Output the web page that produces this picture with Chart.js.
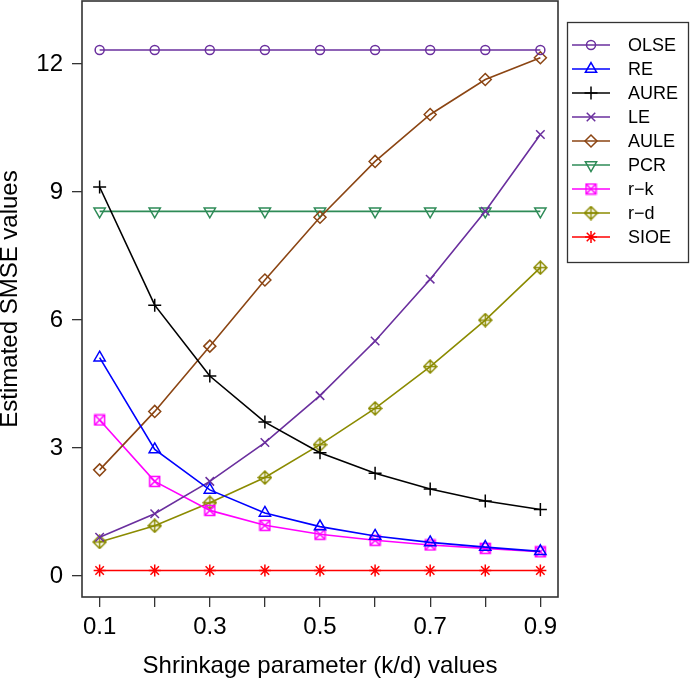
<!DOCTYPE html>
<html>
<head>
<meta charset="utf-8">
<script src="https://cdn.jsdelivr.net/npm/chart.js@4/dist/chart.umd.min.js"></script>
<style>
  html, body { margin: 0; padding: 0; background: #fff; }
</style>
</head>
<body>
<canvas id="smseChart" width="700" height="700"></canvas>
<script>
// shrinkage parameter values and tick labels
var kValues = [0.1, 0.2, 0.3, 0.4, 0.5, 0.6, 0.7, 0.8, 0.9];
var xTickLabels = ['0.1', '', '0.3', '', '0.5', '', '0.7', '', '0.9'];
var yTicks = [0, 3, 6, 9, 12];

// estimated SMSE values per estimator
var olse = [12.33, 12.33, 12.33, 12.33, 12.33, 12.33, 12.33, 12.33, 12.33];
var re   = [5.12, 2.97, 2.02, 1.48, 1.16, 0.94, 0.79, 0.68, 0.58];
var aure = [9.12, 6.35, 4.69, 3.61, 2.89, 2.41, 2.04, 1.76, 1.56];
var le   = [0.91, 1.46, 2.22, 3.13, 4.23, 5.51, 6.96, 8.55, 10.35];
var aule = [2.49, 3.86, 5.39, 6.94, 8.41, 9.72, 10.82, 11.64, 12.15];
var pcr  = [8.55, 8.55, 8.55, 8.55, 8.55, 8.55, 8.55, 8.55, 8.55];
var rk   = [3.66, 2.22, 1.54, 1.19, 0.98, 0.84, 0.73, 0.65, 0.57];
var rd   = [0.80, 1.18, 1.72, 2.31, 3.08, 3.93, 4.91, 6.00, 7.23];
var sioe = [0.13, 0.13, 0.13, 0.13, 0.13, 0.13, 0.13, 0.13, 0.13];

var FONT = "'Liberation Sans', Arial, Helvetica, sans-serif";

// R style pch 7 (square with x) and pch 9 (diamond with plus)
function boxCross(color) {
    var c = document.createElement('canvas');
    c.width = 13; c.height = 13;
    var g = c.getContext('2d');
    g.strokeStyle = color; g.lineWidth = 1.5;
    g.strokeRect(1.5, 1.5, 10, 10);
    g.beginPath();
    g.moveTo(1.5, 1.5); g.lineTo(11.5, 11.5);
    g.moveTo(11.5, 1.5); g.lineTo(1.5, 11.5);
    g.stroke();
    return c;
}
function diamondPlus(color) {
    var c = document.createElement('canvas');
    c.width = 15; c.height = 15;
    var g = c.getContext('2d');
    g.strokeStyle = color; g.lineWidth = 1.5;
    g.beginPath();
    g.moveTo(7.5, 1); g.lineTo(14, 7.5); g.lineTo(7.5, 14); g.lineTo(1, 7.5); g.closePath();
    g.moveTo(7.5, 1); g.lineTo(7.5, 14);
    g.moveTo(1, 7.5); g.lineTo(14, 7.5);
    g.stroke();
    return c;
}

function toPoints(vals) {
    return vals.map(function (v, i) { return { x: kValues[i], y: v }; });
}

function series(label, vals, color, style, radius, rotation) {
    return {
        label: label,
        data: toPoints(vals),
        borderColor: color,
        backgroundColor: color,
        borderWidth: 1.6,
        pointStyle: style,
        pointRadius: radius,
        pointRotation: rotation || 0,
        pointBorderColor: color,
        pointBackgroundColor: 'rgba(0,0,0,0)',
        pointBorderWidth: 1.5,
        pointHoverRadius: radius,
        tension: 0,
        fill: false
    };
}

var datasets = [
    series('OLSE', olse, '#6a2f9e', 'circle', 4.5),
    series('RE', re, '#0000ff', 'triangle', 6.5),
    series('AURE', aure, '#000000', 'cross', 6.5),
    series('LE', le, '#6a2f9e', 'crossRot', 6),
    series('AULE', aule, '#8b4513', 'rectRot', 6),
    series('PCR', pcr, '#2e8b57', 'triangle', 6.5, 180),
    series('r\u2212k', rk, '#ff00ff', boxCross('#ff00ff'), 6),
    series('r\u2212d', rd, '#8b8b00', diamondPlus('#8b8b00'), 7),
    series('SIOE', sioe, '#ff0000', 'star', 6)
];

// frame round the plot region, as R draws it
var framePlugin = {
    id: 'frame',
    afterDraw: function (chart) {
        var a = chart.chartArea, ctx = chart.ctx;
        ctx.save();
        ctx.strokeStyle = '#333';
        ctx.lineWidth = 1.6;
        ctx.strokeRect(a.left, a.top, a.right - a.left, a.bottom - a.top);
        ctx.restore();
    }
};

// boxed legend to the right
var legendPlugin = {
    id: 'rLegend',
    afterDraw: function (chart) {
        var ctx = chart.ctx;
        ctx.save();
        ctx.strokeStyle = '#333';
        ctx.lineWidth = 1.3;
        ctx.strokeRect(567.5, 22.5, 121, 240);
        ctx.font = '18px ' + FONT;
        ctx.textBaseline = 'middle';
        ctx.textAlign = 'left';
        chart.data.datasets.forEach(function (ds, i) {
            var y = 45 + i * 24;
            ctx.strokeStyle = ds.borderColor;
            ctx.lineWidth = ds.borderWidth;
            ctx.beginPath();
            ctx.moveTo(572, y); ctx.lineTo(610, y);
            ctx.stroke();
            ctx.lineWidth = ds.pointBorderWidth;
            ctx.fillStyle = 'rgba(0,0,0,0)';
            Chart.helpers.drawPoint(ctx, {
                pointStyle: ds.pointStyle,
                radius: ds.pointRadius,
                rotation: ds.pointRotation,
                borderWidth: ds.pointBorderWidth
            }, 591, y);
            ctx.fillStyle = '#000';
            ctx.fillText(ds.label, 628, y + 1);
        });
        ctx.restore();
    }
};

var ctx = document.getElementById('smseChart').getContext('2d');
var smseChart = new Chart(ctx, {
    type: 'line',
    data: { datasets: datasets },
    options: {
        responsive: false,
        animation: false,
        layout: { autoPadding: false, padding: { left: 0, right: 142, top: 1, bottom: 0 } },
        plugins: {
            legend: { display: false },
            tooltip: { enabled: false }
        },
        scales: {
            x: {
                type: 'linear',
                min: 0.068,
                max: 0.932,
                afterBuildTicks: function (scale) {
                    scale.ticks = kValues.map(function (v) { return { value: v }; });
                },
                afterFit: function (scale) {
                    scale.height = 103;
                    scale.paddingLeft = 0;
                    scale.paddingRight = 0;
                },
                ticks: {
                    autoSkip: false,
                    maxRotation: 0,
                    padding: 6,
                    color: '#000',
                    font: { family: FONT, size: 24 },
                    callback: function (v, i) { return xTickLabels[i]; }
                },
                grid: { drawOnChartArea: false, drawTicks: true, tickLength: 10, color: '#333', lineWidth: 1.3 },
                border: { display: false },
                title: {
                    display: true,
                    text: 'Shrinkage parameter (k/d) values',
                    color: '#000',
                    font: { family: FONT, size: 24 },
                    padding: { top: 0, bottom: 19 }
                }
            },
            y: {
                type: 'linear',
                min: -0.49,
                max: 13.48,
                afterBuildTicks: function (scale) {
                    scale.ticks = yTicks.map(function (v) { return { value: v }; });
                },
                afterFit: function (scale) {
                    scale.width = 82;
                    scale.paddingTop = 0;
                    scale.paddingBottom = 0;
                },
                ticks: {
                    padding: 9,
                    color: '#000',
                    font: { family: FONT, size: 24 }
                },
                grid: { drawOnChartArea: false, drawTicks: true, tickLength: 10, color: '#333', lineWidth: 1.3 },
                border: { display: false },
                title: {
                    display: true,
                    text: 'Estimated SMSE values',
                    color: '#000',
                    font: { family: FONT, size: 24 },
                    padding: { top: -4, bottom: 0 }
                }
            }
        }
    },
    plugins: [framePlugin, legendPlugin]
});
</script>
</body>
</html>
